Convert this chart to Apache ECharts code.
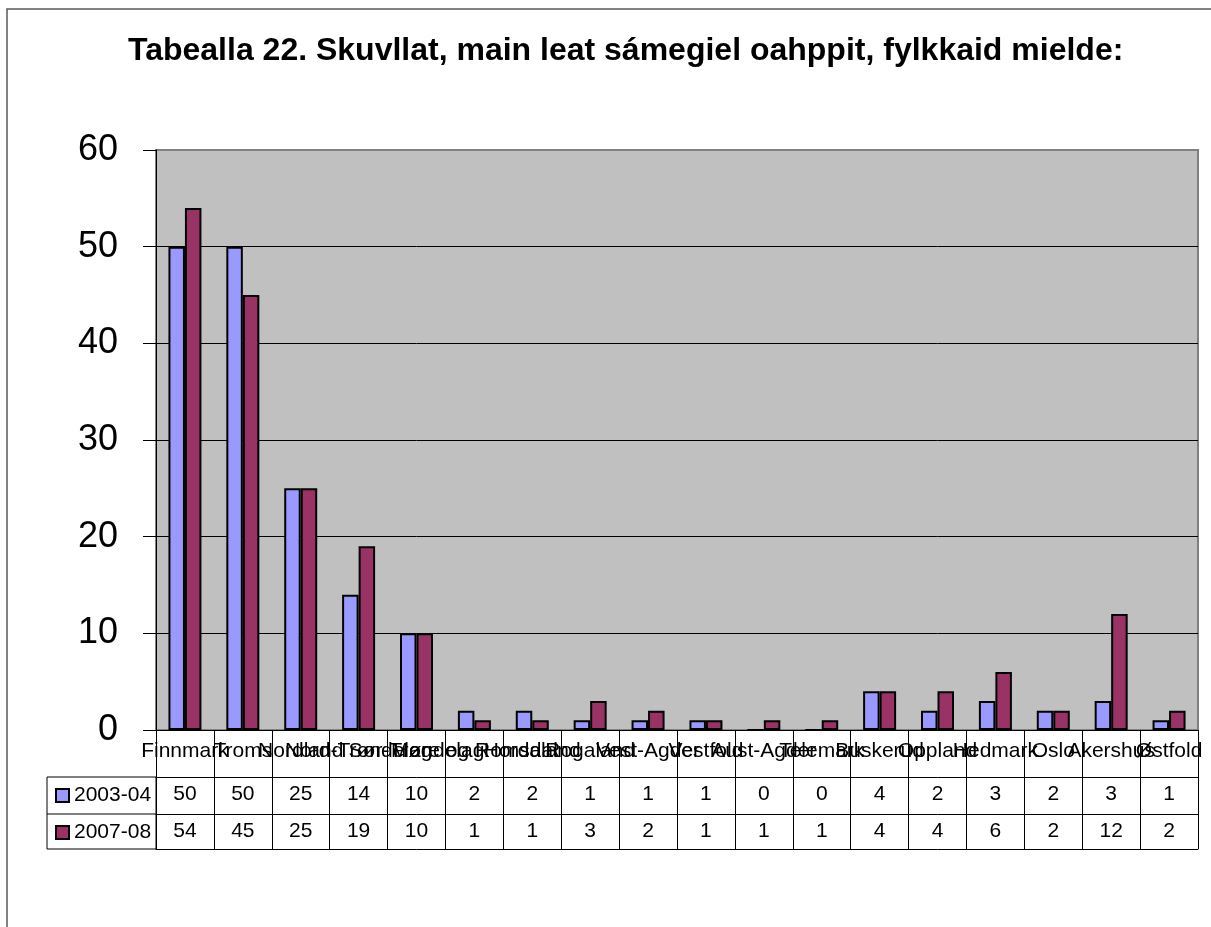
<!DOCTYPE html>
<html>
<head>
<meta charset="utf-8">
<title>Tabealla 22</title>
<script src="https://cdn.jsdelivr.net/npm/echarts@6/dist/echarts.min.js"></script>
<style>
    html, body { margin: 0; padding: 0; background: #ffffff; }
    #chart { width: 1211px; height: 927px; }
</style>
</head>
<body>
<div id="chart"></div>
<script>
// Fylkkat (categories)
var categories = ['Finnmark', 'Troms', 'Nordland', 'Nord-Trøndelag', 'Sør-Trøndelag', 'Møre og Romsdal',
    'Hordaland', 'Rogaland', 'Vest-Agder', 'Vestfold', 'Aust-Agder', 'Telemark',
    'Buskerud', 'Oppland', 'Hedmark', 'Oslo', 'Akershus', 'Østfold'];

var seriesNames = ['2003-04', '2007-08'];
var values2003 = [50, 50, 25, 14, 10, 2, 2, 1, 1, 1, 0, 0, 4, 2, 3, 2, 3, 1];
var values2007 = [54, 45, 25, 19, 10, 1, 1, 3, 2, 1, 1, 1, 4, 4, 6, 2, 12, 2];

// y axis ticks
var yMin = 0;
var yMax = 60;
var yStep = 10;

var titleText = 'Tabealla 22. Skuvllat, main leat sámegiel oahppit, fylkkaid mielde:';

var FONT = '"Liberation Sans", Arial, sans-serif';
var colors = ['#9999FF', '#993366'];

// plot area (pixels)
var gridLeft = 156;
var gridTop = 150;
var gridRight = 1198;
var gridBottom = 730;

// data table rows under the plot
var labelRowH = 47;
var valueRowH = [37, 35];
var legendColLeft = 47;

var myChart = echarts.init(document.getElementById('chart'), null, { renderer: 'canvas' });

var row1Top = gridBottom + labelRowH;
var row2Top = row1Top + valueRowH[0];
var tableBottom = row2Top + valueRowH[1];

// one extra category axis per table row
function tableAxis(_values, _offset, _rowH) {
    return {
        type: 'category',
        gridIndex: 0,
        position: 'bottom',
        offset: _offset,
        data: categories,
        axisLine: { show: true, lineStyle: { color: '#000', width: 1 } },
        axisTick: { show: true, interval: 0, length: _rowH, lineStyle: { color: '#000', width: 1 } },
        axisLabel: {
            interval: 0,
            margin: 7,
            color: '#000',
            fontFamily: FONT,
            fontSize: 21,
            formatter: function (value, index) { return String(_values[index]); }
        },
        splitLine: { show: false }
    };
}

var option = {
    backgroundColor: '#ffffff',
    animation: false,
    textStyle: { fontFamily: FONT },
    title: {
        text: titleText,
        left: 128,
        top: 35,
        padding: 0,
        textStyle: { fontFamily: FONT, fontSize: 32, fontWeight: 'bold', color: '#000' }
    },
    legend: {
        orient: 'vertical',
        left: 55,
        top: row1Top + 8,
        padding: 0,
        itemWidth: 13,
        itemHeight: 13,
        itemGap: 16,
        icon: 'rect',
        selectedMode: false,
        data: seriesNames,
        textStyle: { fontFamily: FONT, fontSize: 21, color: '#000' }
    },
    grid: {
        left: gridLeft,
        top: gridTop,
        right: 1211 - gridRight,
        bottom: 927 - gridBottom,
        show: true,
        backgroundColor: '#C0C0C0',
        borderColor: '#808080',
        borderWidth: 2
    },
    xAxis: [
        {
            type: 'category',
            data: categories,
            axisLine: { show: true, lineStyle: { color: '#000', width: 1 } },
            axisTick: { show: true, interval: 0, length: labelRowH, lineStyle: { color: '#000', width: 1 } },
            axisLabel: { interval: 0, margin: 11, color: '#000', fontFamily: FONT, fontSize: 21 },
            splitLine: { show: false }
        },
        tableAxis(values2003, labelRowH, valueRowH[0]),
        tableAxis(values2007, labelRowH + valueRowH[0], valueRowH[1]),
        {
            // bottom edge of the table
            type: 'category',
            position: 'bottom',
            offset: labelRowH + valueRowH[0] + valueRowH[1],
            data: categories,
            axisLine: { show: true, lineStyle: { color: '#000', width: 1 } },
            axisTick: { show: false },
            axisLabel: { show: false }
        }
    ],
    yAxis: {
        type: 'value',
        min: yMin,
        max: yMax,
        interval: yStep,
        axisLine: { show: true, lineStyle: { color: '#000', width: 1 } },
        axisTick: { show: true, length: 13, lineStyle: { color: '#000', width: 1 } },
        axisLabel: { margin: 38, color: '#000', fontFamily: FONT, fontSize: 36 },
        splitLine: { show: true, showMaxLine: false, lineStyle: { color: '#000', width: 1 } }
    },
    series: [
        {
            name: seriesNames[0],
            type: 'bar',
            data: values2003,
            barGap: '0%',
            barCategoryGap: '43%',
            itemStyle: { color: colors[0], borderColor: '#000', borderWidth: 2 }
        },
        {
            name: seriesNames[1],
            type: 'bar',
            data: values2007,
            barGap: '0%',
            barCategoryGap: '43%',
            itemStyle: { color: colors[1], borderColor: '#000', borderWidth: 2 }
        }
    ],
    graphic: [
        {
            // outer chart frame
            type: 'rect',
            silent: true,
            shape: { x: 7, y: 9, width: 1400, height: 1200 },
            style: { fill: null, stroke: '#5a5a5a', lineWidth: 1.5 },
            z: 100
        },
        {
            // legend column of the data table
            type: 'rect',
            silent: true,
            shape: { x: legendColLeft, y: row1Top, width: gridLeft - legendColLeft, height: tableBottom - row1Top },
            style: { fill: null, stroke: '#000', lineWidth: 1 },
            z: 100
        },
        {
            type: 'line',
            silent: true,
            shape: { x1: legendColLeft, y1: row2Top, x2: gridLeft, y2: row2Top },
            style: { stroke: '#000', lineWidth: 1 },
            z: 100
        }
    ]
};

myChart.setOption(option);
</script>
</body>
</html>
